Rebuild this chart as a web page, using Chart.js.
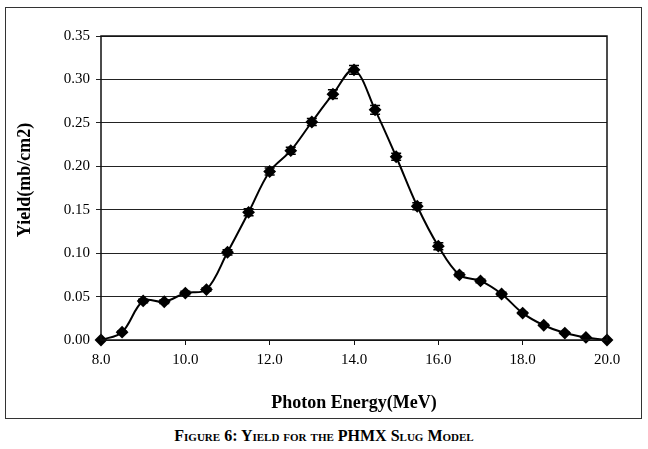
<!DOCTYPE html>
<html>
<head>
<meta charset="utf-8">
<script src="https://cdn.jsdelivr.net/npm/chart.js@4.4.0/dist/chart.umd.min.js"></script>
<style>
  html, body { margin: 0; padding: 0; background: #fff; }
  body { width: 648px; height: 449px; position: relative; overflow: hidden; }
  #box {
    position: absolute; left: 5px; top: 7px;
    width: 637px; height: 412px; box-sizing: border-box;
    border: 1.5px solid #333;
  }
  #wrap { position: absolute; left: 0; top: 0; width: 634px; height: 409px; }
  #caption {
    position: absolute; left: 0; top: 427px; width: 648px;
    text-align: center; font: bold 16px "Liberation Serif", serif;
    font-variant: small-caps; color: #000;
  }
</style>
</head>
<body>
<div id="box"><div id="wrap"><canvas id="chart"></canvas></div></div>
<div id="caption">Figure 6: Yield for the PHMX Slug Model</div>
<script>
const energies = [8.0, 8.5, 9.0, 9.5, 10.0, 10.5, 11.0, 11.5, 12.0, 12.5, 13.0, 13.5, 14.0,
                  14.5, 15.0, 15.5, 16.0, 16.5, 17.0, 17.5, 18.0, 18.5, 19.0, 19.5, 20.0]
const yields = [0.000, 0.009, 0.045, 0.044, 0.054, 0.058, 0.101, 0.147, 0.194, 0.218, 0.251, 0.283, 0.311,
                0.265, 0.211, 0.154, 0.108, 0.075, 0.068, 0.053, 0.031, 0.017, 0.008, 0.003, 0.000]
const errors = [0.000, 0.001, 0.002, 0.002, 0.002, 0.002, 0.003, 0.004, 0.004, 0.004, 0.004, 0.005, 0.005,
                0.005, 0.004, 0.004, 0.004, 0.002, 0.002, 0.002, 0.001, 0.001, 0.001, 0.000, 0.000]
const xTicks = [8, 10, 12, 14, 16, 18, 20]
const yTitle = 'Yield(mb/cm2)'
const xTitle = 'Photon Energy(MeV)'

const serif = '"Liberation Serif", "Times New Roman", serif'

// error bars + plot frame + rotated y title
const extras = {
  id: 'extras',
  afterDatasetsDraw(chart) {
    const ctx = chart.ctx
    const x = chart.scales.x, y = chart.scales.y
    ctx.save()
    ctx.strokeStyle = '#000'
    ctx.lineWidth = 1.5
    energies.forEach((e, i) => {
      if (!errors[i]) return
      const px = x.getPixelForValue(e)
      const top = y.getPixelForValue(yields[i] + errors[i])
      const bot = y.getPixelForValue(yields[i] - errors[i])
      ctx.beginPath()
      ctx.moveTo(px, top); ctx.lineTo(px, bot)
      ctx.moveTo(px - 5, top); ctx.lineTo(px + 5, top)
      ctx.moveTo(px - 5, bot); ctx.lineTo(px + 5, bot)
      ctx.stroke()
    })
    const a = chart.chartArea
    ctx.strokeStyle = '#111'
    ctx.lineWidth = 1.5
    ctx.strokeRect(a.left, a.top, a.right - a.left, a.bottom - a.top)
    ctx.restore()
  },
  afterDraw(chart) {
    const ctx = chart.ctx
    ctx.save()
    ctx.translate(19, 172)
    ctx.rotate(-Math.PI / 2)
    ctx.font = 'bold 18px ' + serif
    ctx.fillStyle = '#000'
    ctx.textAlign = 'center'
    ctx.textBaseline = 'middle'
    ctx.fillText(yTitle, 0, 0)
    ctx.restore()
  }
}

new Chart(document.getElementById('chart'), {
  type: 'line',
  data: {
    datasets: [{
      data: energies.map((e, i) => ({ x: e, y: yields[i] })),
      borderColor: '#000',
      borderWidth: 2,
      backgroundColor: '#000',
      pointStyle: 'rectRot',
      pointRadius: 5,
      pointBackgroundColor: '#000',
      pointBorderColor: '#000',
      tension: 0.35,
      fill: false,
      clip: false
    }]
  },
  options: {
    responsive: true,
    maintainAspectRatio: false,
    animation: false,
    events: [],
    layout: { padding: { top: 28, right: 33, left: 0, bottom: 0 } },
    plugins: { legend: { display: false }, tooltip: { enabled: false } },
    scales: {
      x: {
        type: 'linear',
        min: 8, max: 20,
        afterBuildTicks: s => { s.ticks = xTicks.map(v => ({ value: v })) },
        afterFit: s => { s.height = 77 },
        grid: { drawOnChartArea: false, drawTicks: true, tickLength: 5, color: '#111', lineWidth: 1 },
        border: { display: false },
        ticks: {
          padding: 6, color: '#000',
          font: { family: serif, size: 15 },
          maxRotation: 0,
          callback: v => Number(v).toFixed(1)
        },
        title: {
          display: true, text: xTitle, color: '#000',
          font: { family: serif, size: 18, weight: 'bold' },
          padding: { top: 0, bottom: 3 }
        }
      },
      y: {
        min: 0, max: 0.35,
        ticks: {
          stepSize: 0.05, padding: 6, color: '#000',
          font: { family: serif, size: 15 },
          callback: v => Number(v).toFixed(2)
        },
        afterFit: s => { s.width = 95 },
        grid: { color: '#222', lineWidth: 1, tickLength: 5 },
        border: { display: false }
      }
    }
  },
  plugins: [extras]
})
</script>
</body>
</html>
